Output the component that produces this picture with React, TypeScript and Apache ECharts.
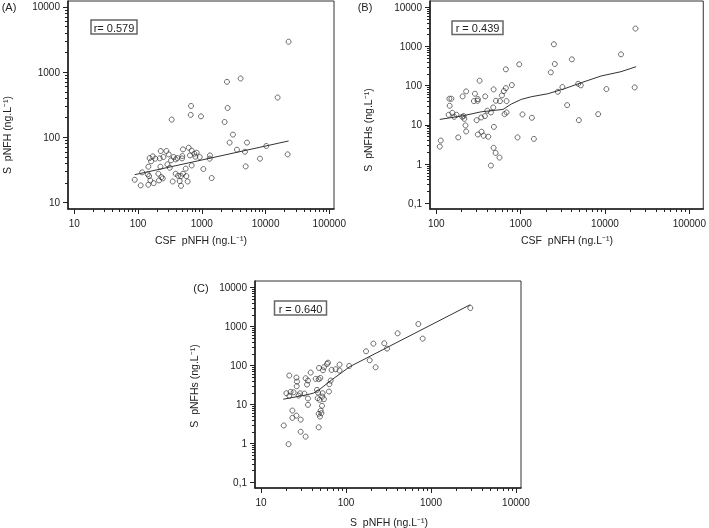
import React, { useEffect, useRef } from 'react';
import * as echarts from 'echarts';

// Panel A: CSF pNFH (x) vs S pNFH (y)
const aCsf = [23000, 2480, 4060, 15450, 678, 670, 2540, 970, 337, 2280, 3080, 2730, 5110, 10260, 3560, 4750, 22200, 8170, 4880, 1430, 1057, 1343, 1327, 927,
  88.7, 110, 116, 145, 142, 149, 156, 145, 176, 208, 232, 213, 244, 152, 170, 160, 187, 219, 227, 250, 224, 278, 303, 289, 314, 329, 362, 389, 413, 349,
  389, 424, 450, 472, 472, 507, 572, 559, 600, 490, 507, 622, 653, 694, 694, 764, 792, 830, 495];
const aSerum = [2930, 710, 800, 408, 303, 221, 282, 210, 187, 172, 110, 83, 83, 73.6, 64.6, 60, 54.7, 47, 35.8, 23.7, 32.6, 52.8, 47, 49.8,
  22.3, 18.3, 29, 35.4, 27, 25.4, 21.8, 18.7, 19.8, 27.6, 24.5, 21.8, 23.4, 48, 51, 42.7, 47, 47.5, 61.6, 49.8, 35.4, 61.6, 54.7, 38.5, 34.1, 44.3, 49.8, 45.8, 48, 21,
  27.6, 25.7, 21.3, 18, 25.4, 27.6, 25.4, 33, 21, 47.5, 65.3, 69.3, 52.8, 62.4, 37, 56, 50.4, 58, 51.6];
const aLineX = [88.7, 23000];
const aLineY = [26.7, 87.9];

// Panel B: CSF pNFH (x) vs S pNFHs (y)
const bCsf = [23000, 2480, 15500, 4050, 2540, 962, 2280, 668, 326, 22500, 10400, 3130, 4810, 5170, 2760, 3560, 4900, 8300, 1360, 1052,
  919, 1436, 787, 668, 681, 644, 681, 632, 600, 568, 509, 478, 473, 482, 444, 402, 380, 377, 341, 311,
  309, 287, 279, 301, 344, 311, 364, 413, 478, 505, 562, 444, 226, 205, 211, 215, 222, 226, 182, 151,
  143, 144, 155, 140, 174, 163, 203, 110, 113];
const bSerumS = [2870, 1140, 632, 471, 358, 351, 219, 262, 134, 90.6, 82, 92.5, 112, 102, 70, 32, 13.2, 18.8, 15.2, 18.5,
  4.8, 4.4, 104, 87, 40.5, 18.8, 20.8, 73, 56.6, 40.5, 41.3, 80.6, 27.9, 8.9, 20.8, 23, 53.4, 16.8, 15.5, 45.6,
  41.3, 62.4, 40.5, 13.2, 6.7, 5.7, 5.3, 5, 2.6, 1.93, 1.47, 0.92, 71.6, 53.4, 16.8, 14.3, 9.7, 6.8, 4.8, 46.6,
  46.6, 30.8, 20.4, 18.1, 18.1, 16.1, 16.1, 2.8, 4];
const bLineX = [110, 207, 341, 617, 773, 1016, 1334, 2100, 3310, 5210, 9000, 15500, 23400];
const bLineY = [13.8, 17.1, 21.6, 24.8, 34, 44.7, 52.3, 62.4, 83.8, 119, 177, 228, 306];

// Panel C: S pNFH (x) vs S pNFHs (y)
const cSerum = [2900, 710, 798, 405, 282, 304, 210, 172, 190, 223, 109, 84, 84, 75.5, 67.7, 61.4, 59.8, 55, 53.6, 48.1,
  49.9, 47.7, 44, 38.4, 35.7, 33.5, 34.8, 26.1, 26.5, 26.3, 21.5, 66, 63.7, 63, 45.6, 46.9, 53.1, 52.7, 46.4, 49,
  55, 52.2, 50.4, 51.3, 47.7, 49.4, 47.7, 35.7, 35.7, 32.4, 28.8, 27.7, 24.2, 22.3, 19.9, 21.5, 23.4, 23.4, 26.1, 29.3,
  29.3, 33.5, 18.5, 21.1];
const cSerumS = [3010, 1170, 492, 674, 374, 273, 366, 233, 137, 90.6, 98, 106, 74.5, 80.6, 77.4, 119, 110, 90.6, 75.9, 87,
  48.3, 44.7, 45.5, 66.2, 41.2, 47.3, 32.6, 49.2, 38.9, 29.5, 55.5, 41.2, 33.2, 21.5, 23.8, 20.3, 19.5, 16, 14.5, 13.2,
  13.7, 9.25, 7, 6, 5.8, 4.9, 2.6, 14.3, 9.8, 19.1, 19.5, 17, 20.7, 21.1, 19.5, 16.7, 7, 4.55, 5.2, 4.1,
  2, 1.5, 2.9, 0.96];
const cLineX = [18.3, 34.4, 41.3, 49.4, 67.9, 111, 2900];
const cLineY = [13.7, 17.7, 19.6, 24.8, 43, 94, 3660];

// Tick labels
const aXTicks = ['10', '100', '1000', '10000', '100000'];
const aYTicks = ['10', '100', '1000', '10000'];
const bXTicks = ['100', '1000', '10000', '100000'];
const bYTicks = ['0,1', '1', '10', '100', '1000', '10000'];
const cXTicks = ['10', '100', '1000', '10000'];
const cYTicks = ['0,1', '1', '10', '100', '1000', '10000'];

const FONT = '"Liberation Sans", Arial, sans-serif';
const INK = '#222';

function tickValue(label: string): number {
  return Number(label.replace(',', '.'));
}

function axisPair(dim: 'x' | 'y', gridIndex: number, labels: string[], range: [number, number]) {
  const majors = labels.map((l) => Math.log10(tickValue(l)));
  const minors: number[] = [];
  for (let i = 0; i < majors.length - 1; i++) {
    for (let k = 2; k <= 9; k++) minors.push(majors[i] + Math.log10(k));
  }
  const lookup = (v: number) => {
    const idx = majors.findIndex((m) => Math.abs(m - v) < 1e-6);
    return idx >= 0 ? labels[idx] : '';
  };
  const base = {
    type: 'value',
    gridIndex,
    min: Math.log10(range[0]),
    max: Math.log10(range[1]),
    position: dim === 'x' ? 'bottom' : 'left',
    splitLine: { show: false },
  };
  return [
    {
      ...base,
      axisLine: { show: true, onZero: false, lineStyle: { color: INK, width: 1.6 } },
      axisTick: { show: true, customValues: majors, length: 5, lineStyle: { color: INK, width: 1 } },
      axisLabel: {
        customValues: majors,
        formatter: (v: number) => lookup(v),
        margin: dim === 'x' ? 9 : 8,
        fontSize: 10,
        color: INK,
        fontFamily: FONT,
      },
    },
    {
      ...base,
      axisLine: { show: false, onZero: false },
      axisTick: { show: true, customValues: minors, length: 3, lineStyle: { color: INK, width: 1 } },
      axisLabel: { show: false },
    },
  ];
}

function scatter(xs: number[], ys: number[], axisIndex: number) {
  return {
    type: 'scatter',
    xAxisIndex: axisIndex,
    yAxisIndex: axisIndex,
    symbol: 'circle',
    symbolSize: 5,
    itemStyle: { color: 'rgba(255,255,255,0)', borderColor: '#333', borderWidth: 0.9 },
    data: xs.map((x, i) => [Math.log10(x), Math.log10(ys[i])]),
  };
}

function trend(xs: number[], ys: number[], axisIndex: number) {
  return {
    type: 'line',
    xAxisIndex: axisIndex,
    yAxisIndex: axisIndex,
    showSymbol: false,
    symbol: 'none',
    lineStyle: { color: '#333', width: 1 },
    data: xs.map((x, i) => [Math.log10(x), Math.log10(ys[i])]),
    z: 3,
  };
}

function text(x: number, y: number, s: string, size: number, rotate = false) {
  return {
    type: 'text',
    x,
    y,
    rotation: rotate ? Math.PI / 2 : 0,
    style: {
      text: s,
      fill: INK,
      font: `${size}px ${FONT}`,
      textAlign: 'center',
      textVerticalAlign: 'middle',
    },
  };
}

function rBox(x: number, y: number, w: number, h: number, s: string) {
  return [
    { type: 'rect', shape: { x, y, width: w, height: h }, style: { fill: '#fff', stroke: '#666', lineWidth: 1.5 } },
    text(x + w / 2, y + h / 2 + 0.5, s, 11),
  ];
}

export default function App() {
  const ref = useRef<HTMLDivElement>(null);
  useEffect(() => {
    if (!ref.current) return;
    const chart = echarts.init(ref.current, undefined, { renderer: 'svg' });
    const ax = axisPair('x', 0, aXTicks, [7.96, 118500]);
    const ay = axisPair('y', 0, aYTicks, [7.94, 12360]);
    const bx = axisPair('x', 1, bXTicks, [84.2, 146400]);
    const by = axisPair('y', 1, bYTicks, [0.0716, 14490]);
    const cx = axisPair('x', 2, cXTicks, [8.5, 11450]);
    const cy = axisPair('y', 2, cYTicks, [0.0719, 14860]);
    const gridStyle = { show: true, borderColor: '#333', borderWidth: 1, backgroundColor: 'transparent' };
    const sup = 'ng.L\u207B\u00B9';
    chart.setOption({
      animation: false,
      grid: [
        { left: 68, top: 1, width: 266, height: 208, ...gridStyle },
        { left: 430, top: 1, width: 274, height: 208, ...gridStyle },
        { left: 255, top: 281, width: 266, height: 207, ...gridStyle },
      ],
      xAxis: [ax[0], bx[0], cx[0], ax[1], bx[1], cx[1]],
      yAxis: [ay[0], by[0], cy[0], ay[1], by[1], cy[1]],
      series: [
        scatter(aCsf, aSerum, 0),
        trend(aLineX, aLineY, 0),
        scatter(bCsf, bSerumS, 1),
        trend(bLineX, bLineY, 1),
        scatter(cSerum, cSerumS, 2),
        trend(cLineX, cLineY, 2),
      ],
      graphic: [
        text(9, 7, '(A)', 11),
        text(365, 7, '(B)', 11),
        text(201, 288, '(C)', 11),
        text(201, 240, `CSF  pNFH (${sup})`, 10.5),
        text(567, 240, `CSF  pNFH (${sup})`, 10.5),
        text(389, 522, `S  pNFH (${sup})`, 10.5),
        text(7, 135, `S  pNFH (${sup})`, 10.5, true),
        text(368, 130, `S  pNFHs (${sup})`, 10.5, true),
        text(194, 386, `S  pNFHs (${sup})`, 10.5, true),
        ...rBox(91, 20, 46, 14, 'r= 0.579'),
        ...rBox(452, 21, 51, 13.5, 'r = 0.439'),
        ...rBox(274.5, 301, 52, 14, 'r = 0.640'),
      ],
    });
    return () => chart.dispose();
  }, []);
  return <div ref={ref} style={{ position: 'fixed', left: 0, top: 0, width: 709, height: 528 }} />;
}
